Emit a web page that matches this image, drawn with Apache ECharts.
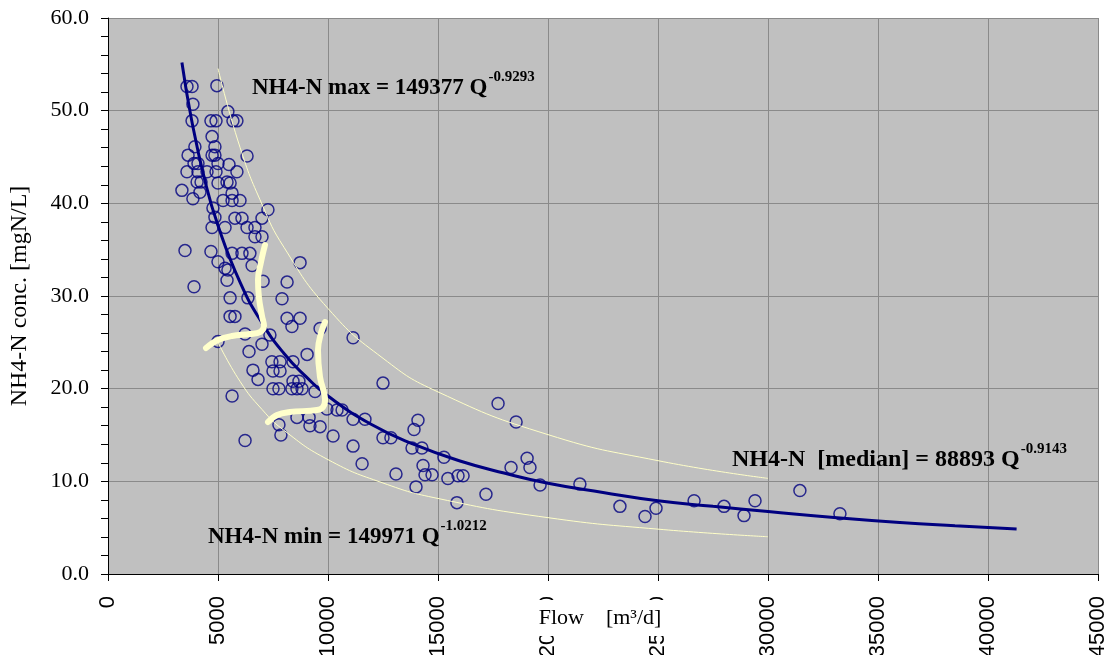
<!DOCTYPE html>
<html><head><meta charset="utf-8">
<script src="https://cdn.jsdelivr.net/npm/echarts@6/dist/echarts.min.js"></script>
<style>html,body{margin:0;padding:0;background:#fff}#c{width:1109px;height:655px}</style>
</head><body><div id="c"></div>
<script>
// ---- data ----
const flowQ = [3590,3820,4950,3860,5450,3820,4680,4910,5680,5860,
4730,3950,4860,3640,4730,4860,6320,3910,4090,5000,
5500,3590,4090,4500,4910,5860,4050,4230,5000,5410,
5550,3360,4180,5640,3860,5230,5640,6000,7270,4770,
4860,5770,6090,7000,4730,5320,6320,6680,6680,7000,
3500,4680,5640,6090,6450,5000,5320,5450,6550,8730,
3910,5410,7050,8140,5550,6360,7910,5550,5770,8140,
8730,8360,9640,6230,7360,11140,5000,7000,6410,9050,
7450,7820,8410,6590,7500,7820,6820,8410,8680,12500,
7500,7770,8360,8590,8820,9410,5640,17730,9950,10410,
10640,8590,9140,11140,11680,14090,18550,7770,9180,9640,
13910,7860,10230,12500,12860,6230,11140,13820,14270,15270,
19050,11550,14320,18320,19180,13090,14410,14730,15910,16140,
15450,21450,19640,14000,17180,15860,23270,24410,24910,26640,
28000,28910,29410,31450,33270];
const nh4Conc = [52.6,52.6,52.7,50.7,49.9,48.9,48.9,48.9,48.9,48.9,
47.2,46.1,46.1,45.2,45.2,45.2,45.1,44.3,44.3,44.3,
44.2,43.4,43.4,43.4,43.4,43.4,42.3,42.3,42.2,42.3,
42.2,41.4,41.2,41.1,40.5,40.3,40.3,40.3,39.3,39.5,
38.5,38.4,38.4,38.4,37.4,37.4,37.4,37.4,36.4,36.4,
34.9,34.8,34.6,34.6,34.6,33.7,33.0,32.8,33.3,33.6,
31.0,31.7,31.6,31.5,29.8,29.8,29.7,27.8,27.8,27.6,
27.6,26.7,26.5,25.9,25.8,25.5,25.1,24.8,24.0,23.7,
22.9,22.9,22.9,22.0,21.9,21.9,21.0,20.8,20.8,20.6,
20.0,20.0,20.0,20.0,20.0,19.7,19.2,18.4,17.8,17.7,
17.7,16.9,16.9,16.7,16.7,16.6,16.4,16.1,16.0,15.9,
15.6,15.0,14.9,14.7,14.7,14.4,13.8,13.6,13.6,12.6,
12.5,11.9,11.7,11.5,11.5,10.8,10.7,10.7,10.6,10.6,
10.3,9.7,9.6,9.4,8.6,7.7,7.3,6.2,7.1,7.9,
7.3,6.3,7.9,9.0,6.5];

// median fit curve
const medianQ = [3360,3800,4400,5000,6000,7000,8000,9000,10000,12000,14000,16000,18000,20000,22500,25000,27500,30000,33000,36000,38500,41300];
const medianC = [55.2,49.0,42.5,37.6,31.5,27.1,23.8,21.3,19.2,16.1,13.9,12.2,10.9,9.8,8.8,7.9,7.3,6.75,6.1,5.56,5.21,4.86];
// max envelope
const maxQ = [5000,6000,7000,8000,10000,12500,15000,20000,25000,30000];
const maxC = [54.55,46.05,39.9,35.25,28.65,23.28,19.65,15.04,12.23,10.32];
// min envelope
const minQ = [5000,6000,7000,8000,10000,12500,15000,20000,25000,30000];
const minC = [25.0,20.79,17.76,15.5,12.34,9.82,8.15,6.08,4.84,4.02];
// hand-drawn pale strokes
const stroke1Q = [7136,6955,6818,6864,7000,7091,6909,6455,5636,5000,4455];
const stroke1C = [35.5,33.67,31.73,29.78,27.84,26.76,26.11,25.9,25.68,25.25,24.39];
const stroke2Q = [9864,9682,9545,9636,9864,9773,9500,8273,7682,7273];
const stroke2C = [27.19,26.0,24.17,21.26,18.78,18.02,17.7,17.48,17.16,16.4];

const labelMax = ['NH4-N max = 149377 Q', '-0.9293'];
const labelMedian = ['NH4-N  [median] = 88893 Q', '-0.9143'];
const labelMin = ['NH4-N min = 149971 Q', '-1.0212'];
const xTitle = 'Flow    [m³/d]';
const yTitle = 'NH4-N conc. [mgN/L]';

const zip = (a, b) => a.map((v, i) => [v, b[i]]);

const SERIF = '"Liberation Serif","Times New Roman",serif';
const supFont = 'bold 15px ' + SERIF;
const cvs = document.createElement('canvas').getContext('2d');
function tw(t, f){ cvs.font = f; return cvs.measureText(t).width; }
function ann(x, y, parts, size){
  const f = 'bold ' + size + 'px ' + SERIF;
  const w = tw(parts[0], f);
  return [
    {type:'text', x:x, y:y, z:100, style:{text:parts[0], font:f, fill:'#000', textAlign:'left', textVerticalAlign:'middle'}},
    {type:'text', x:x + w + 1, y:y - 11, z:100, style:{text:parts[1], font:supFont, fill:'#000', textAlign:'left', textVerticalAlign:'middle'}}
  ];
}
// x-axis title drawn on a white box that covers part of the tick labels (as in the reference)
const xTitleGraphic = [
  {type:'rect', z:90, shape:{x:527, y:600, width:146, height:36}, style:{fill:'#ffffff'}},
  {type:'text', z:91, x:600, y:618, style:{text:xTitle, font:'22px ' + SERIF, fill:'#000', textAlign:'center', textVerticalAlign:'middle'}}
];

const chart = echarts.init(document.getElementById('c'), null, {renderer:'canvas'});
const yellowThin = '#FFFFC8';
chart.setOption({
  animation:false,
  backgroundColor:'#ffffff',
  grid:{left:108, right:11, top:18, bottom:81, containLabel:false, outerBoundsMode:'none', show:true, backgroundColor:'#C0C0C0', borderWidth:0},
  xAxis:{
    type:'value', min:0, max:45000, interval:5000,
    axisLine:{lineStyle:{color:'#000', width:1}},
    axisTick:{show:true, length:7, lineStyle:{color:'#000'}},
    axisLabel:{rotate:90, margin:22, fontFamily:'"Liberation Sans",Arial,sans-serif', fontSize:22, color:'#000', formatter:v => String(v)},
    splitLine:{show:true, lineStyle:{color:'#8a8a8a', width:1}}
  },
  yAxis:{
    type:'value', min:0, max:60, interval:10,
    name:yTitle, nameLocation:'middle', nameGap:76, nameMoveOverlap:false,
    nameTextStyle:{fontFamily:SERIF, fontSize:24, color:'#000'},
    axisLine:{show:true, lineStyle:{color:'#000', width:1}},
    axisTick:{show:true, length:7, lineStyle:{color:'#000'}},
    minorTick:{show:true, splitNumber:5, length:7, lineStyle:{color:'#000'}},
    axisLabel:{margin:19, fontFamily:SERIF, fontSize:22, color:'#000', formatter:v => v.toFixed(1)},
    splitLine:{show:true, lineStyle:{color:'#8a8a8a', width:1}}
  },
  series:[
    {type:'scatter', data:zip(flowQ, nh4Conc), symbol:'circle', symbolSize:12,
     itemStyle:{color:'rgba(0,0,0,0)', borderColor:'#000080', borderWidth:1.5}, z:2},
    {type:'line', data:zip(maxQ, maxC), smooth:true, showSymbol:false, lineStyle:{color:yellowThin, width:1}, z:3},
    {type:'line', data:zip(minQ, minC), smooth:true, showSymbol:false, lineStyle:{color:yellowThin, width:1}, z:3},
    {type:'line', data:zip(medianQ, medianC), smooth:true, showSymbol:false, lineStyle:{color:'#000080', width:3}, z:4},
    {type:'line', data:zip(stroke1Q, stroke1C), smooth:0.4, showSymbol:false, lineStyle:{color:'#FFFFCC', width:6, cap:'round', join:'round'}, z:5},
    {type:'line', data:zip(stroke2Q, stroke2C), smooth:0.4, showSymbol:false, lineStyle:{color:'#FFFFCC', width:6, cap:'round', join:'round'}, z:5}
  ],
  graphic: [].concat(ann(252, 88, labelMax, 23), ann(732, 460, labelMedian, 24), ann(208, 537, labelMin, 23), xTitleGraphic)
});
</script>
</body></html>
